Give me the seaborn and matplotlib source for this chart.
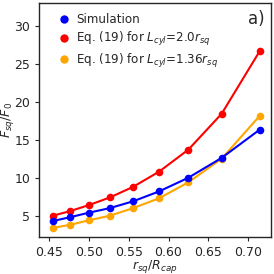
import numpy as np
import pandas as pd
import matplotlib
matplotlib.use("Agg")
import matplotlib.pyplot as plt
import seaborn as sns
from matplotlib.lines import Line2D

# r_sq / R_cap
ratio = [1/2.2, 1/2.1, 1/2.0, 1/1.9, 1/1.8, 1/1.7, 1/1.6, 1/1.5, 1/1.4]
sim = [4.3, 4.8, 5.4, 6.0, 6.9, 8.2, 10.0, 12.6, 16.3]
eq_20 = [5.0, 5.6, 6.4, 7.4, 8.8, 10.8, 13.7, 18.4, 26.6]
eq_136 = [3.4, 3.8, 4.4, 5.0, 6.0, 7.3, 9.4, 12.5, 18.1]

labels = ["Simulation",
          r"Eq. (19) for $L_{cyl}$=2.0$r_{sq}$",
          r"Eq. (19) for $L_{cyl}$=1.36$r_{sq}$"]
colors = ["blue", "red", "orange"]

df = pd.DataFrame({
    "x": ratio * 3,
    "y": sim + eq_20 + eq_136,
    "series": [labels[0]] * 9 + [labels[1]] * 9 + [labels[2]] * 9,
})

sns.set_style("ticks")
plt.rcParams["font.family"] = ["DejaVu Sans"]

fig, ax = plt.subplots(figsize=(2.74, 2.74), dpi=100)

# orange first, then red, blue on top
for lab, col in [(labels[2], colors[2]), (labels[1], colors[1]), (labels[0], colors[0])]:
    sub = df[df["series"] == lab]
    sns.lineplot(data=sub, x="x", y="y", color=col, lw=1.5, marker="o",
                 markersize=5.5, markeredgewidth=0, ax=ax, legend=False)

handles = [Line2D([], [], color=c, marker="o", ls="none", markersize=6,
                  markeredgewidth=0) for c in colors]
ax.legend(handles, labels, loc="upper left", frameon=False, fontsize=8.6,
          handletextpad=0.5, borderaxespad=0, labelspacing=0.3,
          handlelength=1.0, bbox_to_anchor=(0.062, 0.975))

ax.set_xlim(0.4375, 0.729)
ax.set_ylim(2.2, 33.0)
ax.set_xticks([0.45, 0.50, 0.55, 0.60, 0.65, 0.70])
ax.set_yticks([5, 10, 15, 20, 25, 30])
ax.tick_params(labelsize=9, length=3, width=0.8)
ax.set_xlabel(r"$r_{sq}/R_{cap}$", fontsize=9, labelpad=-0.5)
ax.set_ylabel(r"$F_{sq}/F_0$", fontsize=9, labelpad=-1.5)
for s in ax.spines.values():
    s.set_visible(True)
    s.set_linewidth(1.0)
ax.text(0.97, 0.97, "a)", transform=ax.transAxes, ha="right", va="top", fontsize=12)

fig.subplots_adjust(left=0.143, right=0.99, top=0.99, bottom=0.135)
fig.savefig("out.png", dpi=100)
plt.close(fig)
